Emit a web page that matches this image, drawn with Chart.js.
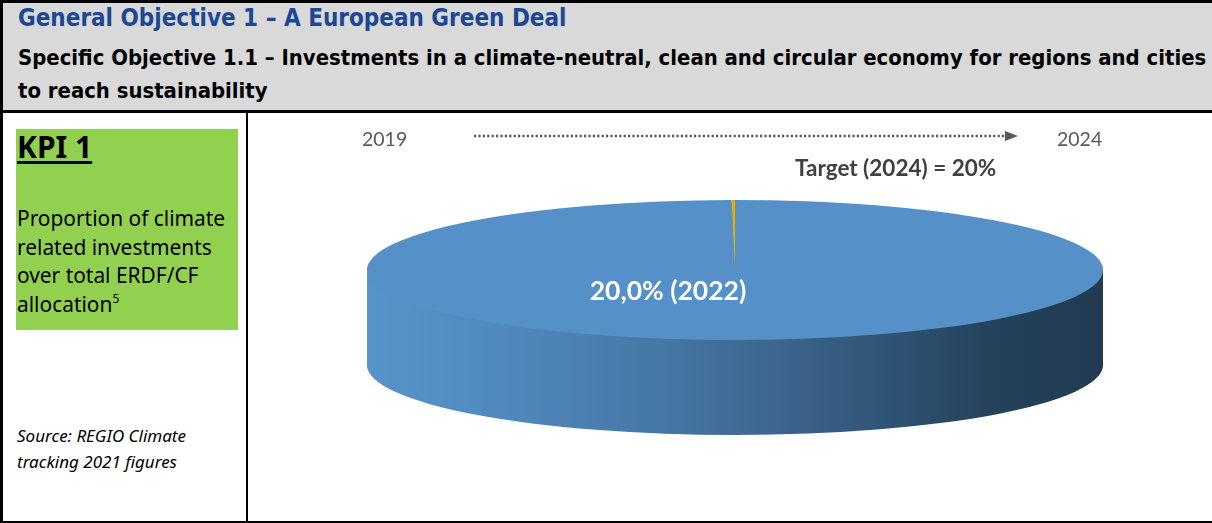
<!DOCTYPE html>
<html>
<head>
<meta charset="utf-8">
<script src="https://cdn.jsdelivr.net/npm/chart.js@4"></script>
<style>
  html, body { margin: 0; padding: 0; background: #fff; }
  #page { position: relative; width: 1212px; height: 523px; overflow: hidden; background: #fff; }
  #head { position: absolute; left: 0; top: 0; width: 1212px; height: 110px; background: #d9d9d9;
          border-top: 3px solid #000; border-left: 3px solid #000; box-sizing: border-box; }
  #headRule { position: absolute; left: 0; top: 110px; width: 1212px; height: 3px; background: #000; }
  #leftRule { position: absolute; left: 0; top: 110px; width: 3px; height: 413px; background: #000; }
  #midRule { position: absolute; left: 246px; top: 110px; width: 2px; height: 413px; background: #000; }
  #botRule { position: absolute; left: 0; top: 521px; width: 1212px; height: 2px; background: #000; }
  .hd { position: absolute; left: 15px; font-family: "DejaVu Sans Condensed", "DejaVu Sans", sans-serif;
        font-weight: bold; white-space: nowrap; line-height: 1.2; }
  #t1 { top: 1px; font-size: 24px; color: #1b4796; }
  #t2 { top: 42px; font-size: 21.9px; color: #000; }
  #t3 { top: 75px; font-size: 21.9px; color: #000; }
  #kpi { position: absolute; left: 16px; top: 129px; width: 222px; height: 201px; background: #92d050; }
  #kpiTitle { position: absolute; left: 1px; top: -3px; font-family: "Noto Sans", sans-serif; font-weight: bold;
              font-size: 30px; text-decoration: underline; text-decoration-thickness: 3px; text-underline-offset: 3px; color: #000; }
  #kpiText { position: absolute; left: 1px; top: 75px; font-family: "Noto Sans", sans-serif; font-size: 20.9px;
             line-height: 28.5px; color: #000; }
  #kpiText sup { font-size: 12px; vertical-align: 9px; line-height: 0; }
  #src { position: absolute; left: 17px; top: 423px; font-family: "Noto Sans", sans-serif; font-style: italic;
         font-size: 17px; line-height: 26px; color: #000; }
  #chartBox { position: absolute; left: 249px; top: 113px; width: 963px; height: 407px; }
</style>
</head>
<body>
<div id="page">
  <div id="head">
    <div class="hd" id="t1">General Objective 1 – A European Green Deal</div>
    <div class="hd" id="t2">Specific Objective 1.1 – Investments in a climate-neutral, clean and circular economy for regions and cities</div>
    <div class="hd" id="t3">to reach sustainability</div>
  </div>
  <div id="headRule"></div>
  <div id="leftRule"></div>
  <div id="midRule"></div>
  <div id="botRule"></div>
  <div id="kpi">
    <div id="kpiTitle">KPI 1</div>
    <div id="kpiText">Proportion of climate<br>related investments<br>over total ERDF/CF<br>allocation<sup>5</sup></div>
  </div>
  <div id="src">Source: REGIO Climate<br>tracking 2021 figures</div>
  <div id="chartBox"><canvas id="pie" width="963" height="407"></canvas></div>
</div>
<script>
// KPI 1: share of climate-related investments (%), achieved vs. remaining to target
const sliceLabels = ['Achieved (2022)', 'Remaining to target'];
const sliceValues = [20.0, 0.03];
const targetValue = 20;
const startYear = '2019';
const endYear = '2024';
const reportYear = '2022';
const sliceColors = ['#5591c8', '#e8b000'];

const fmt = v => v.toFixed(1).replace('.', ',');

// Flattened, extruded rendering of the pie: the library's arc elements are drawn
// through an elliptical transform, stacked downwards for the side wall.
const RX = 368, RY = 70, DEPTH = 95;

const pie3d = {
  id: 'pie3d',
  beforeDatasetsDraw(chart) {
    const ctx = chart.ctx;
    const meta = chart.getDatasetMeta(0);
    const arcs = meta.data;
    if (!arcs.length) return false;
    const cx = arcs[0].x, cy = arcs[0].y, R = arcs[0].outerRadius;
    const sx = RX / R, sy = RY / R;

    const side = ctx.createLinearGradient(cx - R, 0, cx + R, 0);
    side.addColorStop(0.00, '#5793ca');
    side.addColorStop(0.20, '#4f88bd');
    side.addColorStop(0.40, '#4677a5');
    side.addColorStop(0.55, '#3d6790');
    side.addColorStop(0.72, '#2f5273');
    side.addColorStop(0.86, '#25405a');
    side.addColorStop(1.00, '#223b53');

    const place = (dy) => {
      ctx.translate(cx, cy + dy);
      ctx.scale(sx, sy);
      ctx.translate(-cx, -cy);
    };

    // side wall
    for (let d = DEPTH; d >= 1; d--) {
      arcs.forEach(el => {
        const saved = el.options.backgroundColor;
        el.options.backgroundColor = side;
        ctx.save(); place(d); el.draw(ctx); ctx.restore();
        el.options.backgroundColor = saved;
      });
    }
    // top face
    arcs.forEach(el => { ctx.save(); place(0); el.draw(ctx); ctx.restore(); });

    // value label of the achieved slice
    ctx.save();
    ctx.fillStyle = '#ffffff';
    ctx.font = 'bold 26.5px Lato, "Open Sans", sans-serif';
    ctx.textAlign = 'center';
    ctx.textBaseline = 'middle';
    ctx.fillText(fmt(sliceValues[0]) + '% (' + reportYear + ')', cx - 67, cy + 21);
    ctx.restore();
    return false;
  },
  afterDraw(chart) {
    const ctx = chart.ctx;
    const ox = -249, oy = -113; // page -> canvas offset
    ctx.save();
    ctx.font = '19.5px Lato, "Open Sans", sans-serif';
    ctx.fillStyle = '#595959';
    ctx.textBaseline = 'middle';
    ctx.textAlign = 'left';
    ctx.fillText(startYear, 362 + ox, 140 + oy);
    ctx.fillText(endYear, 1057 + ox, 140 + oy);

    // time arrow
    ctx.strokeStyle = '#595959';
    ctx.lineWidth = 2.5;
    ctx.setLineDash([2.2, 2.2]);
    ctx.beginPath();
    ctx.moveTo(474 + ox, 136 + oy);
    ctx.lineTo(1006 + ox, 136 + oy);
    ctx.stroke();
    ctx.setLineDash([]);
    ctx.fillStyle = '#595959';
    ctx.beginPath();
    ctx.moveTo(1005 + ox, 131 + oy);
    ctx.lineTo(1018 + ox, 136 + oy);
    ctx.lineTo(1005 + ox, 141 + oy);
    ctx.closePath();
    ctx.fill();

    ctx.font = 'bold 22.5px Lato, "Open Sans", sans-serif';
    ctx.fillStyle = '#404040';
    ctx.fillText('Target (' + endYear + ') = ' + targetValue + '%', 795 + ox, 169 + oy);
    ctx.restore();
  }
};

new Chart(document.getElementById('pie'), {
  type: 'pie',
  data: {
    labels: sliceLabels,
    datasets: [{ data: sliceValues, backgroundColor: sliceColors, borderWidth: 0 }]
  },
  options: {
    responsive: false,
    animation: false,
    layout: { padding: { left: 9, right: 0, top: 0, bottom: 93 } },
    plugins: { legend: { display: false }, tooltip: { enabled: false } }
  },
  plugins: [pie3d]
});
</script>
</body>
</html>
